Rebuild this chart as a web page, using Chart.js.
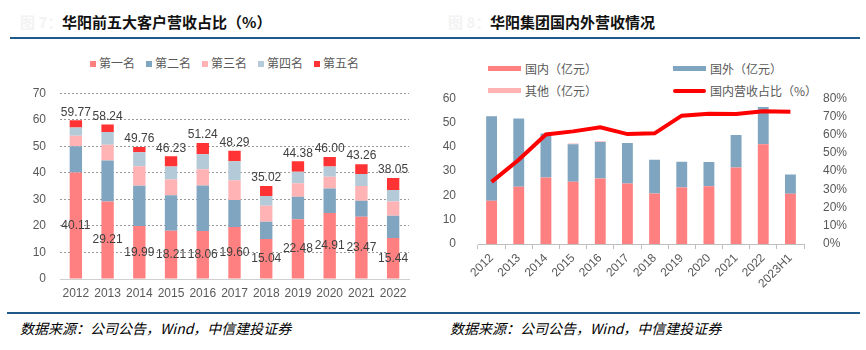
<!DOCTYPE html>
<html>
<head>
<meta charset="utf-8">
<script src="https://cdn.jsdelivr.net/npm/chart.js@4"></script>
<style>
  body { margin: 0; width: 866px; height: 350px; background: #fff; position: relative; overflow: hidden;
         font-family: "Liberation Sans", "Noto Sans CJK SC", sans-serif; }
  .title { position: absolute; top: 11px; font: bold 15px "Noto Sans CJK SC", sans-serif; color: #111; white-space: nowrap; }
  .ghost { position: absolute; top: 11px; font: bold 15px "Noto Sans CJK SC", sans-serif; color: #f3f3f3; }
  .rule { position: absolute; height: 2px; background: #1F5A8A; }
  .src { position: absolute; top: 318px; font: italic 14px "Noto Sans CJK SC", sans-serif; color: #000; white-space: nowrap; }
  .legend1 { position: absolute; left: 90px; top: 54px; display: flex; gap: 11px; font: 12px "Noto Sans CJK SC", sans-serif; color: #595959; }
  .legend1 span.box { display: inline-block; width: 6px; height: 6px; margin-right: 3px; vertical-align: 1px; }
  .lg2 { position: absolute; font: 12px "Noto Sans CJK SC", sans-serif; color: #595959; white-space: nowrap; }
  .lg2 i { display: inline-block; width: 33px; height: 5px; margin-right: 4px; vertical-align: 3px; }
  canvas { position: absolute; }
</style>
</head>
<body>
<div class="ghost" style="left:20px">图 7：</div>
<div class="title" style="left:62px">华阳前五大客户营收占比（%）</div>
<div class="ghost" style="left:448px">图 8：</div>
<div class="title" style="left:490px">华阳集团国内外营收情况</div>
<div class="rule" style="left:10px; width:850px; top:37px"></div>
<div class="rule" style="left:7px; width:853px; top:312px"></div>
<div class="src" style="left:20px">数据来源：公司公告，Wind，中信建投证券</div>
<div class="src" style="left:450px">数据来源：公司公告，Wind，中信建投证券</div>

<div class="legend1" id="legend1"></div>
<div id="legend2"></div>

<canvas id="rankChart" width="430" height="238" style="left:0; top:72px; width:430px; height:238px"></canvas>
<canvas id="revChart" width="436" height="233" style="left:430px; top:77px; width:436px; height:233px"></canvas>

<script>
// ---- left: top-5 customers share (%) ----
const years = ['2012', '2013', '2014', '2015', '2016', '2017', '2018', '2019', '2020', '2021', '2022'];
const rankNames = ['第一名', '第二名', '第三名', '第四名', '第五名'];
const rankColors = ['#FF8080', '#7FA5C0', '#FFB3B5', '#B5CAD8', '#FF3333'];
const first = [40.11, 29.21, 19.99, 18.21, 18.06, 19.60, 15.04, 22.48, 24.91, 23.47, 15.44];
const second = [9.9, 15.4, 15.1, 13.3, 17.2, 10.15, 6.5, 8.5, 9.2, 6.0, 8.4];
const third = [4.0, 6.0, 7.4, 6.0, 6.1, 7.5, 6.1, 5.1, 4.4, 5.6, 5.35];
const fourth = [3.1, 4.8, 5.25, 4.9, 5.6, 7.1, 3.6, 4.3, 3.9, 4.5, 4.35];
const fifth = [2.66, 2.83, 2.02, 3.82, 4.28, 3.94, 3.78, 4.0, 3.59, 3.69, 4.51];
const totals = [59.77, 58.24, 49.76, 46.23, 51.24, 48.29, 35.02, 44.38, 46.00, 43.26, 38.05];

// ---- right: domestic / overseas revenue ----
const periods = ['2012', '2013', '2014', '2015', '2016', '2017', '2018', '2019', '2020', '2021', '2022', '2023H1'];
const domestic = [17.8, 23.6, 27.4, 25.6, 27.0, 24.9, 20.8, 23.3, 23.8, 31.5, 41.0, 20.7];
const overseas = [34.8, 28.0, 18.1, 15.5, 15.0, 16.7, 13.9, 10.5, 9.9, 13.4, 15.4, 7.9];
const others = [0, 0, 0, 0.3, 0.3, 0, 0, 0, 0, 0, 0, 0];
const domesticRatio = [0.341, 0.462, 0.601, 0.618, 0.640, 0.603, 0.607, 0.704, 0.715, 0.713, 0.728, 0.726];
const revNames = ['国内（亿元）', '国外（亿元）', '其他（亿元）', '国内营收占比（%）'];
const revColors = ['#FF8080', '#7FA5C0', '#FFB3B5', '#FF0000'];

const tickFont = { family: 'Liberation Sans', size: 12 };
const grey = '#595959';

// html legends
document.getElementById('legend1').innerHTML = rankNames.map((n, i) =>
  `<div><span class="box" style="background:${rankColors[i]}"></span>${n}</div>`).join('');
const lg2Pos = [[488, 60], [673, 60], [488, 82], [673, 82]];
document.getElementById('legend2').innerHTML = revNames.map((n, i) => {
  const style = i === 3 ? `background:${revColors[i]};height:4px;border-radius:2px` : `background:${revColors[i]}`;
  return `<div class="lg2" style="left:${lg2Pos[i][0]}px;top:${lg2Pos[i][1]}px"><i style="${style}"></i>${n}</div>`;
}).join('');

const rankLabels = {
  id: 'rankLabels',
  afterDatasetsDraw(chart) {
    const ctx = chart.ctx;
    ctx.save();
    ctx.font = '12px "Liberation Sans"';
    ctx.fillStyle = '#404040';
    ctx.textAlign = 'center';
    ctx.textBaseline = 'middle';
    const m0 = chart.getDatasetMeta(0).data;
    const m4 = chart.getDatasetMeta(4).data;
    m0.forEach((bar, i) => {
      ctx.fillText(first[i].toFixed(2), bar.x, (bar.y + bar.base) / 2);
      ctx.fillText(totals[i].toFixed(2), m4[i].x, m4[i].y - 8);
    });
    ctx.restore();
  }
};

const rankSeries = [first, second, third, fourth, fifth];
new Chart(document.getElementById('rankChart'), {
  type: 'bar',
  data: {
    labels: years,
    datasets: rankSeries.map((d, i) => ({
      label: rankNames[i], data: d, backgroundColor: rankColors[i],
      barPercentage: 0.39, categoryPercentage: 1,
    })),
  },
  options: {
    responsive: false,
    animation: false,
    layout: { padding: { top: 12, right: 21, left: 0, bottom: 0 } },
    plugins: { legend: { display: false }, tooltip: { enabled: false } },
    scales: {
      x: {
        stacked: true,
        grid: { display: false, drawTicks: false },
        border: { color: '#D0D0D0' },
        ticks: { color: grey, font: tickFont, padding: 7, maxRotation: 0 },
        afterFit: (s) => { s.height = 31; },
      },
      y: {
        stacked: true, min: 0, max: 70,
        ticks: { stepSize: 10, color: grey, font: tickFont, padding: 14 },
        grid: { color: '#9A9A9A', drawTicks: false },
        border: { display: false, dash: [2, 2] },
        afterFit: (s) => { s.width = 60; },
      },
    },
  },
  plugins: [rankLabels],
});

new Chart(document.getElementById('revChart'), {
  data: {
    labels: periods,
    datasets: [
      { type: 'line', label: revNames[3], data: domesticRatio, yAxisID: 'y1', borderColor: revColors[3],
        borderWidth: 4, pointRadius: 0, tension: 0, order: 0 },
      { type: 'bar', label: revNames[0], data: domestic, backgroundColor: revColors[0], barPercentage: 0.4, categoryPercentage: 1, order: 1 },
      { type: 'bar', label: revNames[1], data: overseas, backgroundColor: revColors[1], barPercentage: 0.4, categoryPercentage: 1, order: 1 },
      { type: 'bar', label: revNames[2], data: others, backgroundColor: revColors[2], barPercentage: 0.4, categoryPercentage: 1, order: 1 },
    ],
  },
  options: {
    responsive: false,
    animation: false,
    layout: { padding: { top: 8, right: 0, left: 0, bottom: 0 } },
    plugins: { legend: { display: false }, tooltip: { enabled: false } },
    scales: {
      x: {
        stacked: true,
        grid: { offset: true, drawOnChartArea: false, tickLength: 5, color: '#BFBFBF' },
        border: { color: '#BFBFBF' },
        ticks: { color: grey, font: tickFont, minRotation: 45, maxRotation: 45, padding: 2 },
        afterFit: (s) => { s.height = 66; },
      },
      y: {
        stacked: true, min: 0, max: 60, position: 'left',
        ticks: { stepSize: 10, color: grey, font: tickFont, padding: 14 },
        grid: { display: false },
        border: { display: false },
        afterFit: (s) => { s.width = 48; },
      },
      y1: {
        min: 0, max: 0.8, position: 'right',
        ticks: { stepSize: 0.1, autoSkip: false, color: grey, font: tickFont, padding: 11,
                 callback: (v) => Math.round(v * 100) + '%' },
        grid: { display: false },
        border: { display: false },
        afterFit: (s) => { s.width = 62; },
      },
    },
  },
});
</script>
</body>
</html>
